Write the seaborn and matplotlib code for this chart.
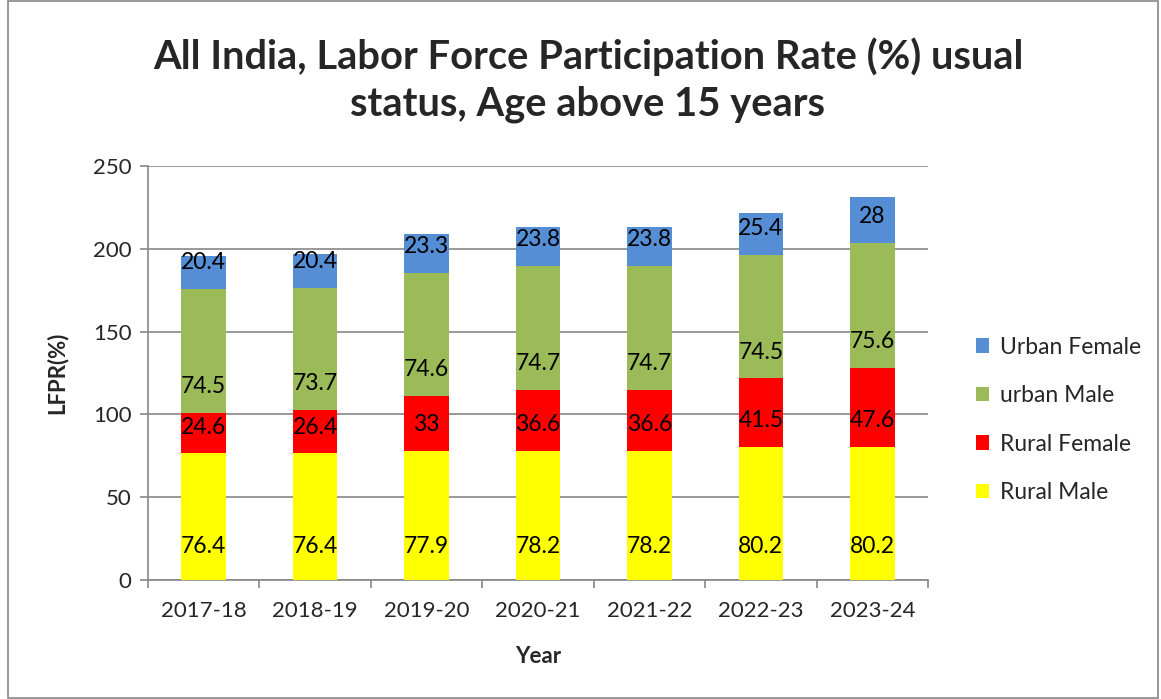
import matplotlib
matplotlib.use("Agg")
import matplotlib.pyplot as plt
import seaborn as sns
import pandas as pd
import numpy as np
from matplotlib.patches import Rectangle
from matplotlib.ticker import FixedLocator, NullFormatter

years = ["2017-18", "2018-19", "2019-20", "2020-21", "2021-22", "2022-23", "2023-24"]
rural_male = [76.4, 76.4, 77.9, 78.2, 78.2, 80.2, 80.2]
rural_female = [24.6, 26.4, 33, 36.6, 36.6, 41.5, 47.6]
urban_male = [74.5, 73.7, 74.6, 74.7, 74.7, 74.5, 75.6]
urban_female = [20.4, 20.4, 23.3, 23.8, 23.8, 25.4, 28]
series_names = ["Rural Male", "Rural Female", "urban Male", "Urban Female"]
series_values = [rural_male, rural_female, urban_male, urban_female]
colors = ["#FFFF00", "#FF0000", "#9BBB59", "#558ED5"]

sns.set_theme(style="white")
plt.rcParams["font.family"] = ["Lato", "DejaVu Sans"]

fig = plt.figure(figsize=(11.61, 6.99), dpi=100)
ax = fig.add_axes([148 / 1161, 1 - 580 / 699, (928 - 148) / 1161, (580 - 166) / 699])

rows = []
for name, vals in zip(series_names, series_values):
    for y, v in zip(years, vals):
        rows.append({"Year": y, "Series": name, "Value": v})
df = pd.DataFrame(rows)

bottom = np.zeros(len(years))
for i, (name, color) in enumerate(zip(series_names, colors)):
    sub = df[df["Series"] == name]
    sns.barplot(data=sub, x="Year", y="Value", color=color, width=0.4,
                bottom=bottom, ax=ax, label=name, saturation=1, errorbar=None,
                linewidth=0, zorder=3)
    off = 24 if i == 0 else 19
    for j, v in enumerate(sub["Value"].values):
        ax.annotate(f"{v:g}", xy=(j, bottom[j]), xytext=(0, off),
                    textcoords="offset points", ha="center", va="center",
                    fontsize=16.5, color="black", zorder=5)
    bottom = bottom + sub["Value"].values

ax.set_ylim(0, 250)
ax.set_xlim(-0.5, len(years) - 0.5)
ax.set_yticks([0, 50, 100, 150, 200, 250])
ax.tick_params(axis="y", labelsize=16, length=6, width=1.2, color="#888888", left=True, pad=6)
ax.tick_params(axis="x", labelsize=16, length=0, pad=15)
ax.xaxis.set_minor_locator(FixedLocator(np.arange(-0.5, len(years), 1)))
ax.xaxis.set_minor_formatter(NullFormatter())
ax.tick_params(axis="x", which="minor", length=6, width=1.2, color="#888888", bottom=True)
ax.grid(axis="y", color="#888888", linewidth=1.2, zorder=0)
ax.set_axisbelow(True)
for s in ["top", "right"]:
    ax.spines[s].set_visible(False)
for s in ["left", "bottom"]:
    ax.spines[s].set_color("#888888")
    ax.spines[s].set_linewidth(1.2)

ax.set_xlabel("Year", fontsize=16, fontweight="bold", labelpad=18)
ax.set_ylabel("LFPR(%)", fontsize=16, fontweight="bold", labelpad=18)

h, l = ax.get_legend_handles_labels()
ax.legend(h[::-1], l[::-1], loc="center left", bbox_to_anchor=(955 / 1161, 1 - 420 / 699),
          bbox_transform=fig.transFigure, frameon=False, fontsize=16.5,
          handlelength=0.6, handleheight=0.6, labelspacing=1.2, handletextpad=0.45)

fig.text(588 / 1161, 1 - 80 / 699,
         "All India, Labor Force Participation Rate (%) usual\nstatus, Age above 15 years",
         ha="center", va="center", fontsize=28.7, fontweight="bold", linespacing=1.3)

fig.patches.append(Rectangle((8 / 1161, 0.002), 1 - 9 / 1161 - 0.002, 0.996,
                             transform=fig.transFigure, fill=False,
                             edgecolor="#888888", linewidth=1.2))

fig.savefig("out.png", dpi=100)
